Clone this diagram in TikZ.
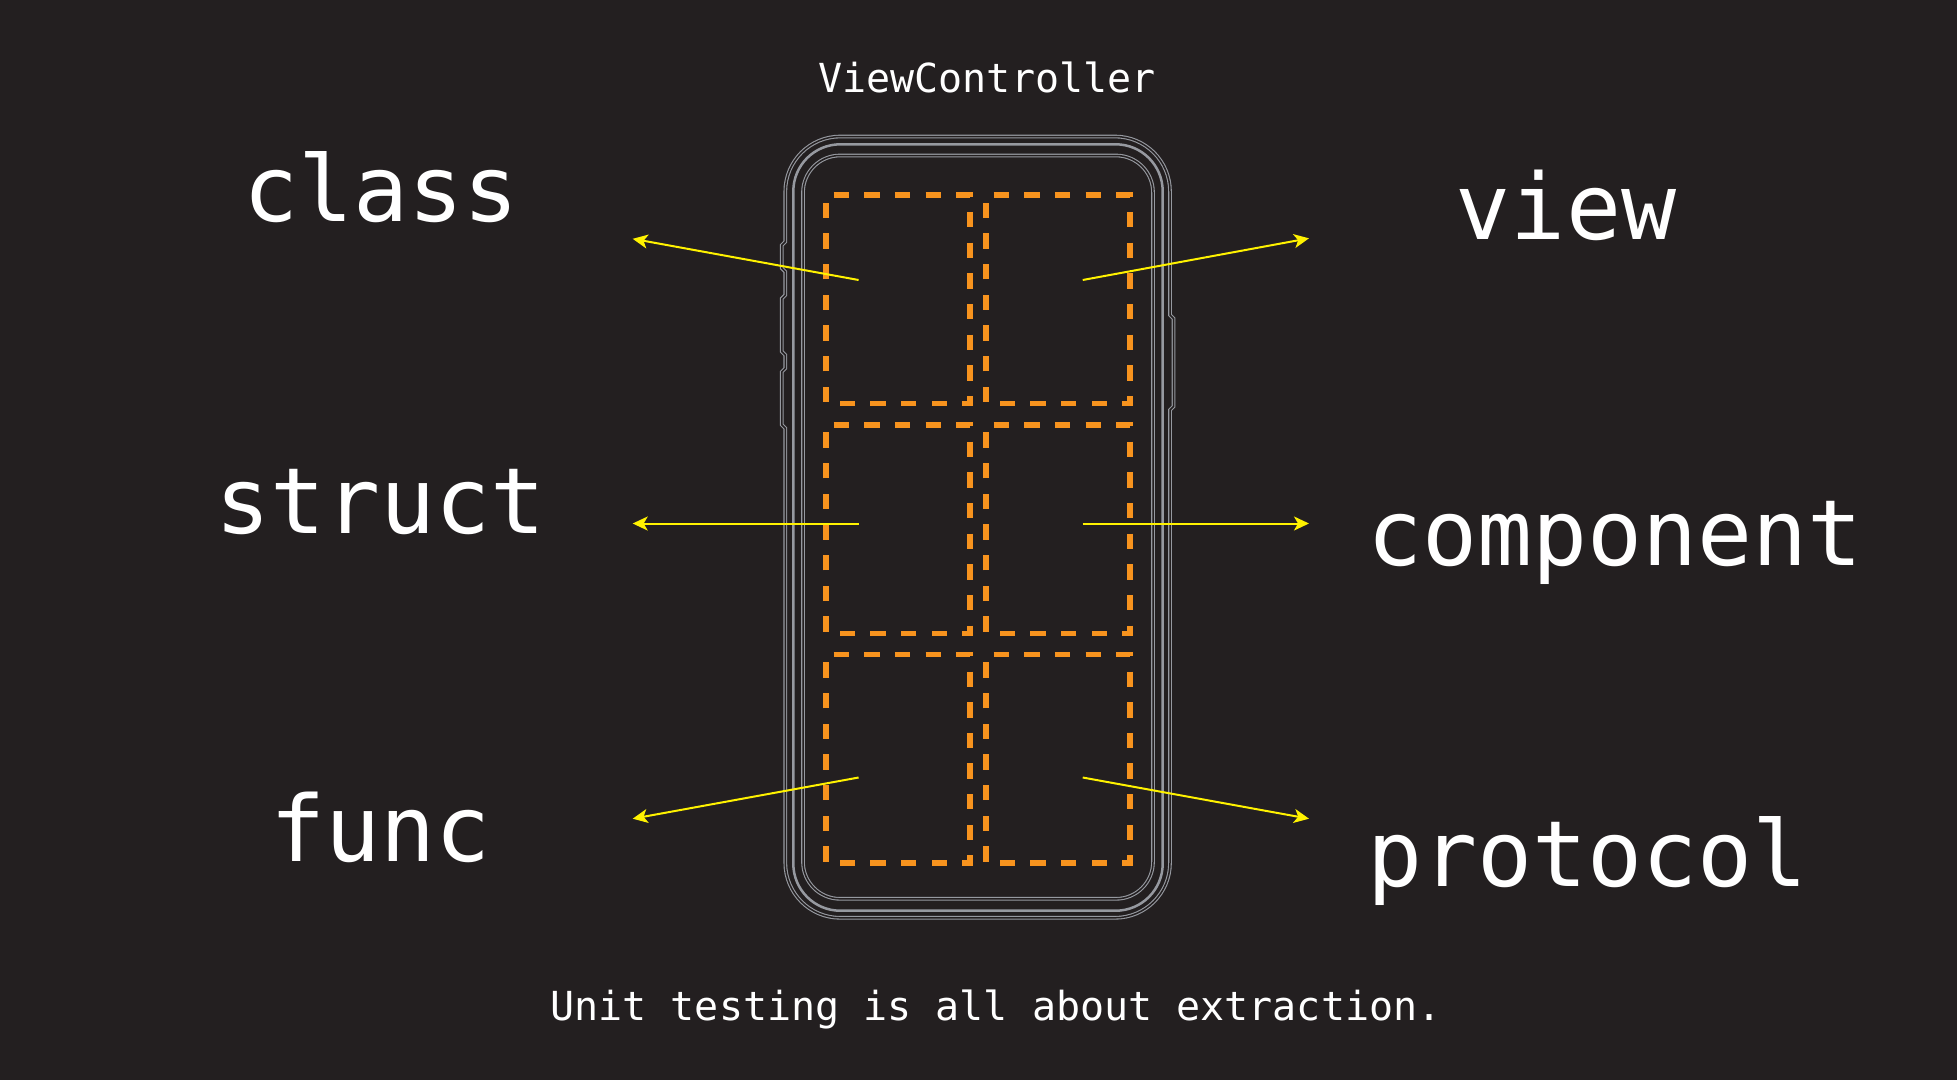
\documentclass[tikz,border=0pt]{standalone}
\usepackage{fontspec}
\setmonofont{DejaVu Sans Mono}
\usetikzlibrary{arrows.meta}
\definecolor{bg}{RGB}{35,31,32}
\definecolor{phonegray}{RGB}{150,153,160}
\definecolor{dashorange}{RGB}{247,147,30}
\definecolor{arrowyellow}{RGB}{255,242,0}
\begin{document}
\begin{tikzpicture}[x=1pt,y=1pt,
  biglabel/.style={font=\ttfamily\fontsize{91.5}{100}\selectfont, text=white, inner sep=0pt},
  smalllabel/.style={font=\ttfamily\fontsize{40}{44}\selectfont, text=white, inner sep=0pt, anchor=base},
  pointer/.style={draw=arrowyellow, line width=2pt, -{Stealth[length=15pt,width=14pt,inset=4pt]}},
  cellbox/.style={draw=dashorange, line width=5.4pt, dash pattern=on 15.326pt off 15.326pt, dash phase=22.99pt},
  pairline/.style={draw=phonegray, double=bg, line width=1.1pt, double distance=1.5pt},
  frameline/.style={draw=phonegray, line width=2.5pt}]
\fill[bg] (0,0) rectangle (1957,-1080);
\useasboundingbox (0,0) rectangle (1957,-1080);

% phone: outer double line with side buttons
\draw[pairline] (840.3,-136.5) -- (1115,-136.5)
  arc[start angle=90,end angle=0,radius=55]
  -- (1170,-315) -- (1173.5,-318.5) -- (1173.5,-406.5) -- (1170,-410)
  -- (1170,-862.8) arc[start angle=0,end angle=-90,radius=55]
  -- (840.3,-917.8) arc[start angle=270,end angle=180,radius=55]
  -- (785.3,-428.3) -- (781.8,-424.8) -- (781.8,-371.8) -- (785.3,-368.3)
  -- (785.3,-355) -- (781.8,-351.5) -- (781.8,-298.5) -- (785.3,-295)
  -- (785.3,-271.7) -- (781.8,-268.2) -- (781.8,-245.2) -- (785.3,-241.7)
  -- (785.3,-191.5) arc[start angle=180,end angle=90,radius=55] -- cycle;
% thick middle line
\draw[frameline, rounded corners=47pt] (793.3,-144.3) rectangle (1162.7,-910.7);
% inner double line
\draw[pairline, rounded corners=37pt] (803,-155.5) rectangle (1153,-898.8);

% dashed cells (drawn clockwise from the top-left corner)
\draw[cellbox] (826,-195) -- (970,-195) -- (970,-403.5) -- (826,-403.5) -- cycle;
\draw[cellbox] (986,-195) -- (1130,-195) -- (1130,-403.5) -- (986,-403.5) -- cycle;
\draw[cellbox] (826,-424.8) -- (970,-424.8) -- (970,-633.3) -- (826,-633.3) -- cycle;
\draw[cellbox] (986,-424.8) -- (1130,-424.8) -- (1130,-633.3) -- (986,-633.3) -- cycle;
\draw[cellbox] (826,-654.6) -- (970,-654.6) -- (970,-863.1) -- (826,-863.1) -- cycle;
\draw[cellbox] (986,-654.6) -- (1130,-654.6) -- (1130,-863.1) -- (986,-863.1) -- cycle;

% texts
\node[smalllabel] (title) at (987,-92.7) {ViewController};
\node[smalllabel] (caption) at (996,-1020) {Unit testing is all about extraction.};
\node[biglabel, anchor=base] (cls) at (381,-221.7) {class};
\node[biglabel, anchor=base] (strct) at (380.6,-533) {struct};
\node[biglabel, anchor=base] (fnc) at (380.5,-861) {func};
\node[biglabel, anchor=base] (vw) at (1566,-239.6) {view};
\node[biglabel, anchor=base west] (cmp) at (1367,-565) {component};
\node[biglabel, anchor=base west] (proto) at (1367,-886.7) {protocol};

% arrow ends
\coordinate (s1) at (858.6,-280);   \coordinate (t1) at (632.7,-238.8);
\coordinate (s2) at (1082.7,-280);  \coordinate (t2) at (1309,-238.3);
\coordinate (s3) at (858.6,-523.5); \coordinate (t3) at (632.7,-523.5);
\coordinate (s4) at (1082.7,-523.5);\coordinate (t4) at (1309,-523.5);
\coordinate (s5) at (858.6,-777.5); \coordinate (t5) at (632.7,-818.7);
\coordinate (s6) at (1082.7,-777.5);\coordinate (t6) at (1309,-818.7);
\draw[pointer] (s1) -- (t1);
\draw[pointer] (s2) -- (t2);
\draw[pointer] (s3) -- (t3);
\draw[pointer] (s4) -- (t4);
\draw[pointer] (s5) -- (t5);
\draw[pointer] (s6) -- (t6);
\end{tikzpicture}
\end{document}
